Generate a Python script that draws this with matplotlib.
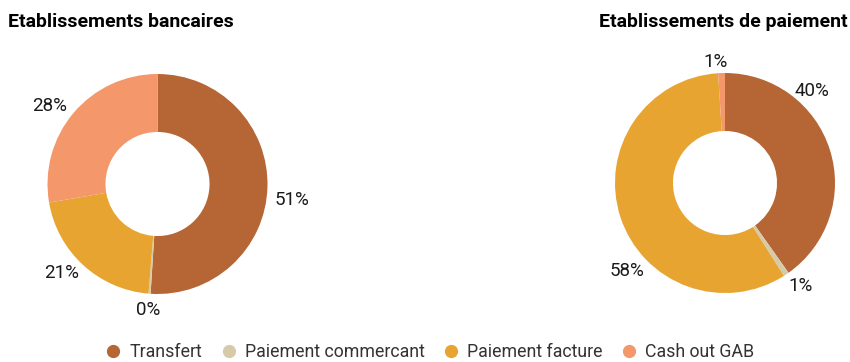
import numpy as np
import matplotlib.pyplot as plt
from matplotlib.lines import Line2D

plt.rcParams['font.family'] = ['Roboto', 'DejaVu Sans']

#=========================================================================================
#Input:

categories = ['Transfert', 'Paiement commercant', 'Paiement facture', 'Cash out GAB']
colors = ['#B66635', '#D7CAA8', '#E8A430', '#F4986B']

title_bank = 'Etablissements bancaires'
bank_values = [51.0, 0.3, 21.0, 27.7]
bank_labels = ['51%', '0%', '21%', '28%']

title_pay = 'Etablissements de paiement'
pay_values = [40.2, 0.8, 58.0, 1.0]
pay_labels = ['40%', '1%', '58%', '1%']

#=========================================================================================


def donut(ax, values, labels, angles, dist):
    ax.pie(values, colors=colors, startangle=90, counterclock=False,
           radius=1.0, wedgeprops=dict(width=0.527, linewidth=0))
    for lab, a, d in zip(labels, angles, dist):
        a = np.deg2rad(a)
        ax.text(d * np.cos(a), d * np.sin(a), lab, ha='center', va='center',
                fontsize=13.5, color='#1a1a1a')
    ax.set_xlim(-1, 1)
    ax.set_ylim(-1, 1)
    ax.set_aspect('equal')
    ax.axis('off')


fig = plt.figure(figsize=(8.5, 3.62), dpi=100)

ax1 = fig.add_axes([(157.5 - 110) / 850, 1 - (184 + 110) / 362, 220 / 850, 220 / 362])
donut(ax1, bank_values, bank_labels, [-6.8, 266, 223, 144.2], [1.227, 1.15, 1.19, 1.21])

ax2 = fig.add_axes([(725 - 110) / 850, 1 - (183 + 110) / 362, 220 / 850, 220 / 362])
donut(ax2, pay_values, pay_labels, [46.4, -53.6, 222.1, 94.2], [1.15, 1.16, 1.20, 1.105])

fig.text(8 / 850, 1 - 22 / 362, title_bank, fontsize=14, fontweight='bold', ha='left', va='center')
fig.text(848 / 850, 1 - 22 / 362, title_pay, fontsize=14, fontweight='bold', ha='right', va='center')

handles = [Line2D([], [], marker='o', linestyle='', markersize=8.5, color=c) for c in colors]
fig.legend(handles, categories, loc='center', bbox_to_anchor=(0.5, 1 - 352 / 362), ncol=4,
           frameon=False, fontsize=12.8, handletextpad=-0.1, columnspacing=0.5,
           labelcolor='#333333', borderpad=0)

plt.savefig('out.png', dpi=100)
